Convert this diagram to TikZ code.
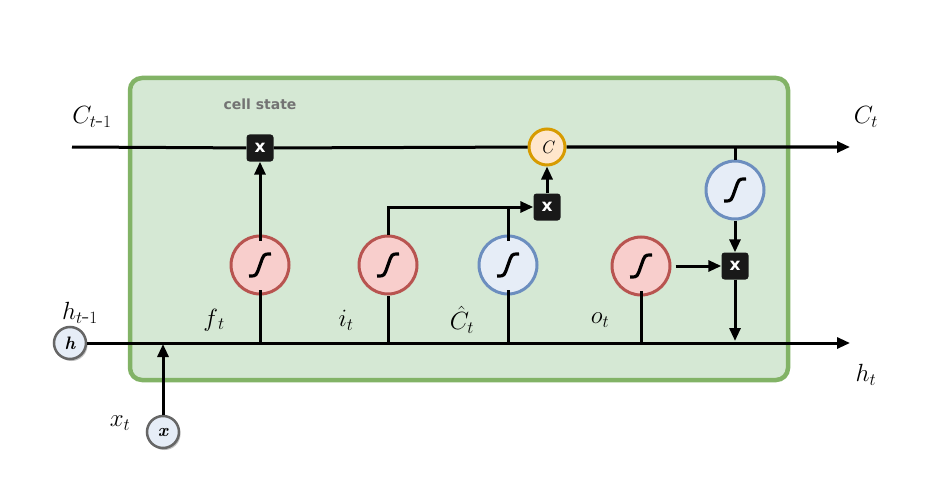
\documentclass[tikz,border=0pt]{standalone}
\usepackage{fontspec}
\usetikzlibrary{arrows.meta,shadows}
\definecolor{boxfill}{HTML}{D5E8D4}
\definecolor{boxline}{HTML}{82B366}
\definecolor{rfill}{HTML}{F8CECC}
\definecolor{rline}{HTML}{B85450}
\definecolor{bfill}{HTML}{E6EDF7}
\definecolor{bline}{HTML}{6C8EBF}
\definecolor{ofill}{HTML}{FFE6CC}
\definecolor{oline}{HTML}{D79B00}
\newfontfamily\sansb{DejaVu Sans}
\begin{document}
\begin{tikzpicture}[x=1pt,y=-1pt,
  ln/.style={line width=3pt,black},
  ar/.style={ln,-{Triangle[length=13pt,width=11pt]}},
  sig/.style={circle,minimum size=58pt,inner sep=0pt,line width=3pt,
    path picture={\draw[line width=3.2pt,black] (path picture bounding box.center) ++(-11pt,-11pt) .. controls ++(8pt,0pt) and ++(-4pt,-11pt) .. ++(11pt,11pt) .. controls ++(4pt,11pt) and ++(-8pt,0pt) .. ++(11pt,11pt);}},
  red/.style={sig,fill=rfill,draw=rline},
  blue/.style={sig,fill=bfill,draw=bline},
  mul/.style={rectangle,rounded corners=3pt,fill=black!90,minimum size=27pt,inner sep=0pt,text=white,font=\sansb\bfseries\fontsize{17}{17}\selectfont},
  io/.style={circle,minimum size=32pt,inner sep=0pt,fill=bfill,draw=gray!80!black,line width=2.5pt,drop shadow={shadow xshift=1.5pt,shadow yshift=-2pt},font=\bfseries\itshape\fontsize{18}{18}\selectfont},
  lab/.style={font=\fontsize{24}{24}\selectfont}]
\useasboundingbox (0,0) rectangle (950,500);
\fill[white] (0,0) rectangle (950,500);
\draw[draw=boxline,fill=boxfill,line width=4.5pt,rounded corners=12pt] (130,78) rectangle (788,380);
\node[font=\sansb\bfseries\fontsize{14}{14}\selectfont,text=gray!90!black] (cs) at (260,104) {cell state};
% nodes
\node[io] (h) at (70,343) {h};
\node[io] (x) at (163,432) {x};
\coordinate (cl) at (72,147);
\coordinate (cr) at (850,147);
\coordinate (hr) at (850,343);
\node[red] (f) at (260,265) {};
\node[red] (i) at (388,265) {};
\node[blue] (ct) at (508,265) {};
\node[red] (o) at (641,266) {};
\node[blue] (th) at (735,190) {};
\node[mul] (m1) at (260,148) {x};
\node[mul] (m2) at (547,207) {x};
\node[mul] (m3) at (735,266) {x};
\node[circle,minimum size=36pt,inner sep=0pt,fill=ofill,draw=oline,line width=3pt,font=\itshape\fontsize{18}{18}\selectfont] (C) at (547,147) {C};
\coordinate (fb) at (260,343);
\coordinate (ib) at (388,343);
\coordinate (cb) at (508,343);
\coordinate (ob) at (641,343);
\coordinate (xb) at (163,344);
\coordinate (j) at (388,207);
\coordinate (jc) at (508,207);
\coordinate (tt) at (735,147);
\coordinate (hd) at (735,341);
% connectors
\draw[ar] (cl) -- (m1) -- (C) -- (cr);
\draw[ar] (h) -- (hr);
\draw[ar] (x) -- (xb);
\draw[ln] (fb) -- ([yshift=6pt]f.south);
\draw[ar] ([yshift=-6pt]f.north) -- (m1);
\draw[ln] (ib) -- (i);
\draw[ar] (i) -- (j) -- (m2);
\draw[ln] (cb) -- ([yshift=6pt]ct.south);
\draw[ln] ([yshift=-6pt]ct.north) -- (jc);
\draw[ar] (m2) -- (C);
\draw[ln] (ob) -- ([yshift=6pt]o.south);
\draw[ar] ([xshift=4pt]o.east) -- (m3);
\draw[ln] (tt) -- (th);
\draw[ar] (th) -- (m3);
\draw[ar] (m3) -- (hd);
% labels
\node[lab] (l1) at (92,117) {$C_{t\mbox{-}1}$};
\node[lab] (l2) at (866,117) {$C_t$};
\node[lab] (l3) at (80,313) {$h_{t\mbox{-}1}$};
\node[lab] (l4) at (214,320) {$f_{\,t}$};
\node[lab] (l5) at (346,320) {$i_t$};
\node[lab] (l6) at (462,320) {$\hat{C}_t$};
\node[lab] (l7) at (600,320) {$o_t$};
\node[lab] (l8) at (866,375) {$h_t$};
\node[lab] (l9) at (120,423) {$x_t$};
\end{tikzpicture}
\end{document}
